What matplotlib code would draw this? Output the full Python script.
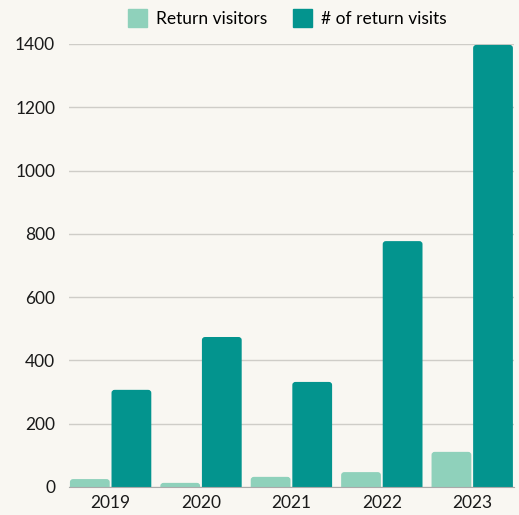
import numpy as np
import matplotlib.pyplot as plt
from matplotlib.patches import FancyBboxPatch

years = ['2019', '2020', '2021', '2022', '2023']
return_visitors = [25, 13, 32, 47, 111]
return_visits = [307, 474, 332, 777, 1397]

bg = '#f9f7f2'
light = '#8fd1bb'
dark = '#03948e'

plt.rcParams['font.family'] = ['Lato', 'DejaVu Sans']

fig = plt.figure(figsize=(5.19, 5.15), dpi=100, facecolor=bg)
ax = fig.add_axes([0.133, 0.0544, 0.857, 0.8602], facecolor=bg)

x = np.arange(len(years))
w = 0.44
gap = 0.01
b1 = ax.bar(x - w / 2 - gap, return_visitors, w, color=light, zorder=3)
b2 = ax.bar(x + w / 2 + gap, return_visits, w, color=dark, zorder=3)

ax.set_xlim(-0.46, len(years) - 0.54)
ax.set_ylim(0, 1400)

# swap plain rectangles for ones with slightly rounded corners
r = 0.035
asp = 9.5 / r
for bars in (b1, b2):
    for p in bars:
        x0, h, bw = p.get_x(), p.get_height(), p.get_width()
        fb = FancyBboxPatch((x0 + r, -20 + r * asp), bw - 2 * r, h + 20 - 2 * r * asp,
                            boxstyle=f'round,pad={r}', mutation_aspect=asp,
                            facecolor=p.get_facecolor(), edgecolor='none', zorder=3)
        ax.add_patch(fb)
        p.set_visible(False)

ax.set_yticks(range(0, 1401, 200))
ax.set_xticks(x)
ax.set_xticklabels(years)
ax.yaxis.grid(True, color='#cfcdc8', linewidth=1, zorder=0)
ax.tick_params(axis='both', length=0, labelsize=12.5, colors='#1a1a1a', pad=6)
ax.tick_params(axis='y', pad=10)
for s in ['top', 'right', 'left']:
    ax.spines[s].set_visible(False)
ax.spines['bottom'].set_color('#aaaaaa')
ax.spines['bottom'].set_zorder(4)

handles = [plt.Rectangle((0, 0), 1, 1, color=light), plt.Rectangle((0, 0), 1, 1, color=dark)]
fig.legend(handles, ['Return visitors', '# of return visits'], loc='upper center',
           bbox_to_anchor=(0.553, 1.012), ncol=2, frameon=False,
           fontsize=12.5, handlelength=1.1, handleheight=1.2, columnspacing=1.5, handletextpad=0.5)

fig.savefig('out.png', dpi=100, facecolor=bg)
